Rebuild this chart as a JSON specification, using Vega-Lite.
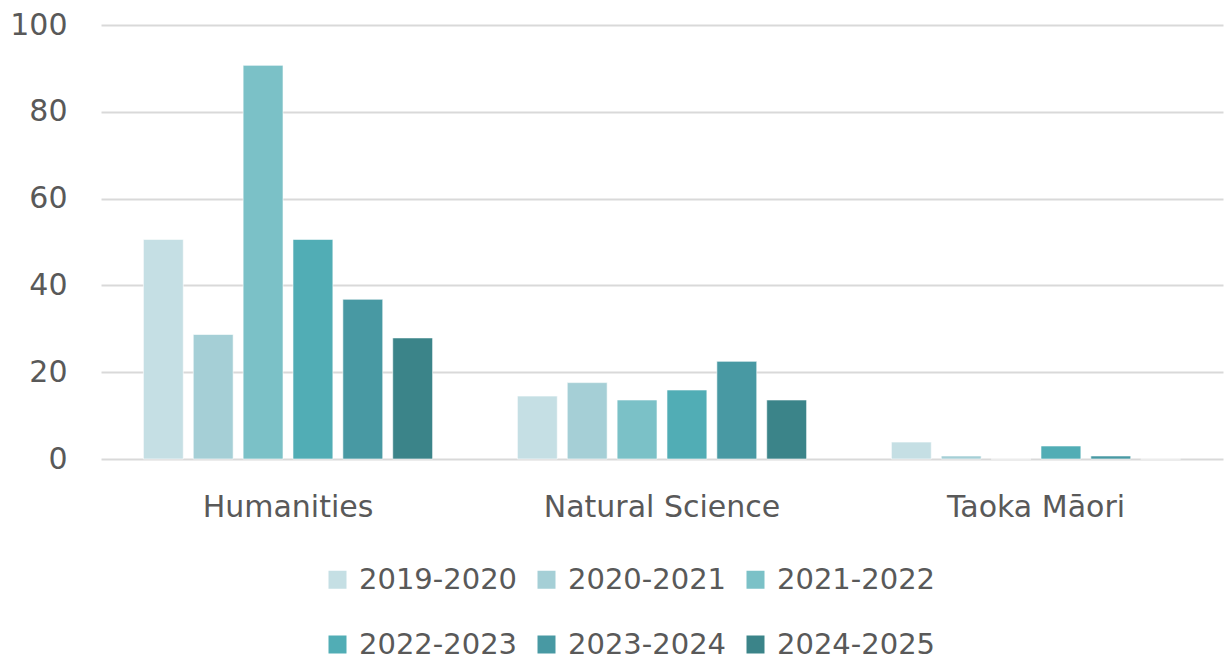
{
  "$schema": "https://vega.github.io/schema/vega-lite/v6.json",
  "autosize": "none",
  "width": 1122,
  "height": 434,
  "padding": {"left": 101, "top": 25, "right": 1, "bottom": 200},
  "background": "white",
  "data": {
    "values": [
      {"field": "Humanities", "year": "2019-2020", "count": 50.6},
      {"field": "Humanities", "year": "2020-2021", "count": 28.7},
      {"field": "Humanities", "year": "2021-2022", "count": 90.7},
      {"field": "Humanities", "year": "2022-2023", "count": 50.6},
      {"field": "Humanities", "year": "2023-2024", "count": 36.8},
      {"field": "Humanities", "year": "2024-2025", "count": 27.9},
      {"field": "Natural Science", "year": "2019-2020", "count": 14.5},
      {"field": "Natural Science", "year": "2020-2021", "count": 17.6},
      {"field": "Natural Science", "year": "2021-2022", "count": 13.6},
      {"field": "Natural Science", "year": "2022-2023", "count": 15.9},
      {"field": "Natural Science", "year": "2023-2024", "count": 22.5},
      {"field": "Natural Science", "year": "2024-2025", "count": 13.6},
      {"field": "Taoka Māori", "year": "2019-2020", "count": 3.9},
      {"field": "Taoka Māori", "year": "2020-2021", "count": 0.7},
      {"field": "Taoka Māori", "year": "2021-2022", "count": 0},
      {"field": "Taoka Māori", "year": "2022-2023", "count": 3.0},
      {"field": "Taoka Māori", "year": "2023-2024", "count": 0.7},
      {"field": "Taoka Māori", "year": "2024-2025", "count": 0}
    ]
  },
  "mark": {"type": "bar", "stroke": "white", "strokeWidth": 1, "strokeOpacity": 0.6},
  "encoding": {
    "x": {
      "field": "field",
      "type": "nominal",
      "sort": null,
      "title": null,
      "scale": {"paddingInner": 0.2, "paddingOuter": 0.1},
      "axis": {
        "labelAngle": 0,
        "labelFont": "DejaVu Sans",
        "labelFontSize": 30,
        "labelColor": "#595959",
        "labelPadding": 33,
        "labelLimit": 0,
        "ticks": false,
        "domain": false,
        "grid": false
      }
    },
    "xOffset": {
      "field": "year",
      "type": "nominal",
      "sort": null,
      "scale": {"paddingInner": 0.2, "paddingOuter": 0.1}
    },
    "y": {
      "field": "count",
      "type": "quantitative",
      "title": null,
      "scale": {"domain": [0, 100], "nice": false},
      "axis": {
        "values": [0, 20, 40, 60, 80, 100],
        "labelFont": "DejaVu Sans",
        "labelFontSize": 30,
        "labelColor": "#595959",
        "labelPadding": 34,
        "ticks": false,
        "domain": false,
        "grid": true,
        "gridColor": "#D9D9D9",
        "gridWidth": 2
      }
    },
    "color": {
      "field": "year",
      "type": "nominal",
      "sort": null,
      "title": null,
      "scale": {
        "domain": ["2019-2020", "2020-2021", "2021-2022", "2022-2023", "2023-2024", "2024-2025"],
        "range": ["#C5DFE4", "#A5CFD6", "#7BC1C7", "#51ADB5", "#4899A3", "#3B8489"]
      },
      "legend": {
        "orient": "none",
        "legendX": 222,
        "legendY": 540,
        "direction": "horizontal",
        "columns": 3,
        "gridAlign": "all",
        "columnPadding": 14,
        "rowPadding": 35,
        "symbolType": "square",
        "symbolSize": 324,
        "symbolStrokeWidth": 0,
        "labelFont": "DejaVu Sans",
        "labelFontSize": 29,
        "labelColor": "#595959",
        "labelOffset": 7,
        "labelLimit": 0
      }
    }
  },
  "config": {"view": {"stroke": null}}
}
